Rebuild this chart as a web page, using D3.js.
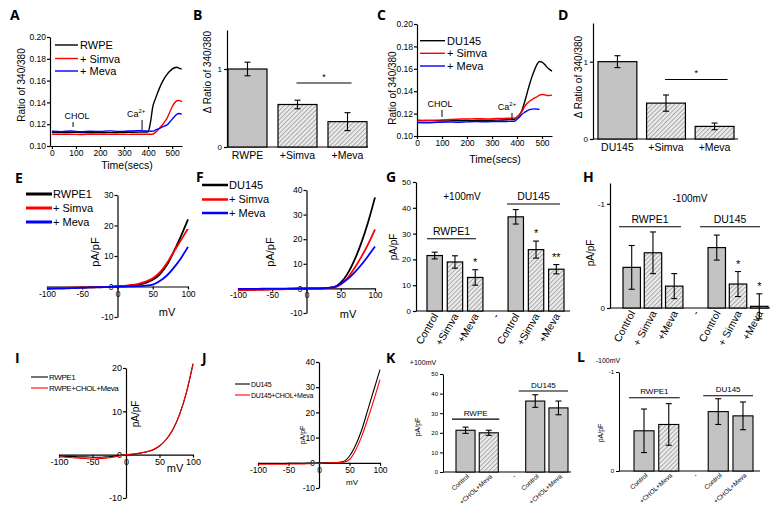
<!DOCTYPE html>
<html><head><meta charset="utf-8">
<script src="https://cdn.jsdelivr.net/npm/d3@7"></script>
<style>
body{margin:0;background:#fff;}
svg{display:block;}
</style></head><body>
<script>
// ================= DATA =================
// Panels A & C: ratio 340/380 time courses
const timePts = [0,40,80,120,160,200,240,280,320,360,390,400,410,420,430,440,450,460,470,480,490,500,510,520,530,540];
const ratioTicks = [0.10,0.12,0.14,0.16,0.18,0.20];
const timeTicks = [0,100,200,300,400,500];
const aRWPE  = [0.1125,0.1123,0.1126,0.1124,0.1122,0.1124,0.1123,0.1125,0.1126,0.1127,0.1128,0.1130,0.1220,0.1365,0.1430,0.1490,0.1545,0.1590,0.1630,0.1660,0.1685,0.1705,0.1718,0.1722,0.1712,0.1705];
const aSimva = [0.1108,0.1107,0.1108,0.1106,0.1107,0.1108,0.1107,0.1108,0.1107,0.1108,0.1108,0.1108,0.1108,0.1110,0.1125,0.1145,0.1170,0.1195,0.1225,0.1260,0.1310,0.1360,0.1395,0.1415,0.1418,0.1405];
const aMeva  = [0.1135,0.1132,0.1138,0.1131,0.1136,0.1133,0.1139,0.1134,0.1137,0.1140,0.1138,0.1136,0.1135,0.1136,0.1145,0.1155,0.1165,0.1175,0.1185,0.1195,0.1220,0.1245,0.1270,0.1292,0.1298,0.1292];
const cDU145 = [0.1140,0.1138,0.1136,0.1135,0.1137,0.1138,0.1140,0.1141,0.1142,0.1145,0.1150,0.1170,0.1190,0.1230,0.1300,0.1380,0.1460,0.1530,0.1590,0.1640,0.1665,0.1660,0.1640,0.1615,0.1595,0.1580];
const cSimva = [0.1135,0.1138,0.1142,0.1146,0.1150,0.1152,0.1155,0.1153,0.1156,0.1158,0.1160,0.1170,0.1190,0.1220,0.1260,0.1290,0.1310,0.1325,0.1340,0.1350,0.1365,0.1370,0.1368,0.1362,0.1362,0.1365];
const cMeva  = [0.1120,0.1118,0.1122,0.1125,0.1123,0.1126,0.1128,0.1127,0.1129,0.1130,0.1132,0.1150,0.1170,0.1195,0.1210,0.1225,0.1235,0.1240,0.1242,0.1240,0.1238,null,null,null,null,null];

// Panel B & D: normalized delta ratio
const catB = ["RWPE","+Simva","+Meva"];
const valB = [1.0,0.545,0.325];
const errB = [0.087,0.055,0.115];
const catD = ["DU145","+Simva","+Meva"];
const valD = [1.0,0.464,0.163];
const errD = [0.077,0.105,0.043];

// IV curves (pA/pF vs mV)
const mV = [-100,-90,-80,-70,-60,-50,-40,-30,-20,-10,0,10,20,30,40,50,60,70,80,90,100];
const ivTicksX = [-100,-50,0,50,100];
const eRWPE1 = [-0.6,-0.6,-0.5,-0.5,-0.4,-0.4,-0.3,-0.3,-0.2,-0.1,0,0.1,0.3,0.6,1.2,2.2,4.0,7.0,11.5,16.5,22];
const eSimva = [-0.5,-0.5,-0.5,-0.4,-0.4,-0.3,-0.3,-0.2,-0.2,-0.1,0,0.2,0.5,0.9,1.6,2.7,4.6,7.6,11.5,15.2,19];
const eMeva  = [-0.8,-0.7,-0.7,-0.6,-0.5,-0.4,-0.3,-0.2,-0.2,-0.1,0,0,0.05,0.1,0.3,0.6,1.8,3.6,6.2,9.3,13];
const fDU145 = [-0.5,-0.5,-0.5,-0.4,-0.4,-0.3,-0.3,-0.2,-0.2,-0.1,0,0,0.05,0.15,0.5,2.3,6.0,11.5,18.5,27,37];
const fSimva = [-0.7,-0.7,-0.6,-0.6,-0.5,-0.4,-0.4,-0.3,-0.2,-0.1,0,0,0.05,0.15,0.4,1.6,4.2,8.2,12.8,18,24];
const fMeva  = [-0.2,-0.2,-0.2,-0.2,-0.1,-0.1,-0.1,-0.1,0,0,0,0,0.05,0.2,0.5,1.9,3.8,6.4,9.6,13.2,17];
const iRWPE1 = [-0.3,-0.4,-0.4,-0.5,-0.5,-0.6,-0.6,-0.5,-0.4,-0.2,0,0.1,0.3,0.6,1.1,2.0,3.5,5.8,9.3,14.2,21];
const iCholMeva = [-0.5,-0.6,-0.7,-0.8,-0.9,-1.0,-0.9,-0.8,-0.6,-0.3,0,0.15,0.35,0.65,1.15,2.0,3.5,5.8,9.3,14.3,20.8];
const jDU145 = [-0.3,-0.3,-0.3,-0.3,-0.3,-0.2,-0.2,-0.2,-0.1,-0.1,0,0,0,0.1,0.5,2.7,7,13,21,29,37];
const jCholMeva = [-0.6,-0.6,-0.6,-0.6,-0.6,-0.5,-0.5,-0.5,-0.4,-0.3,-0.2,-0.1,0,0.05,0.2,1.3,5,10.5,17.5,25,33];

// Panels G & H: current densities
const catGH = ["Control","+Simva","+Meva","-","Control","+Simva","+Meva"];
const catH  = ["Control","+ Simva","+Meva","-","Control","+ Simva","+Meva"];
const valG = [21.5,19,13,null,36.5,23.8,16.2];
const errG = [1.3,2.4,3,null,2.8,3.3,1.8];
const valH = [-0.39,-0.53,-0.21,null,-0.58,-0.23,-0.016];
const errH = [0.21,0.2,0.12,null,0.12,0.12,0.12];
// Panels K & L
const catKL = ["Control","+CHOL+Meva","-","Control","+CHOL+Meva"];
const valK = [21.3,20,null,36.2,32.7];
const errK = [1.6,1.3,null,3.2,3.5];
const valL = [-0.406,-0.47,null,-0.6,-0.557];
const errL = [0.22,0.21,null,0.13,0.14];

// ================= DRAWING =================
const FONT = '"Liberation Sans", Arial, sans-serif';
const SOLID = "#c3c3c3";
const svg = d3.select("body").append("svg").attr("width",779).attr("height",520)
  .style("font-family",FONT);
svg.append("rect").attr("width",779).attr("height",520).attr("fill","#fff");
const defs = svg.append("defs");
const pat = defs.append("pattern").attr("id","hatch").attr("patternUnits","userSpaceOnUse")
  .attr("width",3.2).attr("height",3.2).attr("patternTransform","rotate(45)");
pat.append("rect").attr("width",3.2).attr("height",3.2).attr("fill","#ececec");
pat.append("line").attr("x1",0.5).attr("y1",0).attr("x2",0.5).attr("y2",3.2).attr("stroke","#a0a0a0").attr("stroke-width",0.9);

function txt(x,y,s,fs,opt={}){
  const t = svg.append("text").attr("x",x).attr("y",y).attr("font-size",fs)
    .attr("text-anchor",opt.anchor||"start").attr("fill","#000").text(s);
  if(opt.rotate!=null) t.attr("transform",`rotate(${opt.rotate},${x},${y})`);
  if(opt.weight) t.attr("font-weight",opt.weight);
  if(opt.family) t.attr("font-family",opt.family);
  if(opt.ls!=null) t.attr("letter-spacing",opt.ls);
  return t;
}
function styleAxis(g,fs,sw){
  g.selectAll("text").attr("font-size",fs).attr("font-family",FONT).attr("fill","#000");
  g.selectAll("path,line").attr("stroke","#000").attr("stroke-width",sw||1.2);
}
function letter(s,x,y){ txt(x,y,s,14,{weight:700,family:'"Open Sans", sans-serif'}); }
const fmtPlain = d=>String(d);

// ---- time-course panels ----
function timePanel(c){
  const x = d3.scaleLinear().domain(c.xDom).range(c.xRange);
  const y = d3.scaleLinear().domain([0.10,0.20]).range(c.yRange);
  const g = svg.append("g");
  const ya = g.append("g").attr("transform",`translate(${c.xRange[0]},0)`)
    .call(d3.axisLeft(y).tickValues(ratioTicks).tickFormat(d3.format(".2f")).tickSize(3).tickSizeOuter(0).tickPadding(1));
  const xa = g.append("g").attr("transform",`translate(0,${c.yRange[0]})`)
    .call(d3.axisBottom(x).tickValues(timeTicks).tickSize(3).tickSizeOuter(0).tickPadding(1));
  styleAxis(ya,8.5); styleAxis(xa,8.5);
  const line = d3.line().defined(d=>d[1]!=null).x(d=>x(d[0])).y(d=>y(d[1])).curve(d3.curveMonotoneX);
  c.series.forEach(s=>{
    g.append("path").datum(timePts.map((t,i)=>[t,s.v[i]])).attr("d",line)
      .attr("fill","none").attr("stroke",s.color).attr("stroke-width",1.4);
  });
  // legend
  c.series.forEach((s,i)=>{
    const ly = c.legY[i];
    g.append("line").attr("x1",c.legX[0]).attr("x2",c.legX[1]).attr("y1",ly).attr("y2",ly)
      .attr("stroke",s.color).attr("stroke-width",1.4);
    txt(c.legX[1]+2,ly+4,s.name,11);
  });
  // markers
  c.marks.forEach(m=>{
    g.append("line").attr("x1",x(m.t)).attr("x2",x(m.t)).attr("y1",y(m.y0)).attr("y2",y(m.y1))
      .attr("stroke","#000").attr("stroke-width",1);
    const t = txt(x(m.t)+m.dx, y(m.y1)-3, m.label, 9, {anchor:"middle"});
    if(m.sup){ t.append("tspan").attr("font-size",6).attr("dy",-4).text(m.sup); }
  });
  txt(c.xTitle[0],c.xTitle[1],"Time(secs)",10.5,{anchor:"middle"});
  txt(c.yTitle[0],c.yTitle[1],"Ratio of 340/380",10,{anchor:"middle",rotate:-90});
}

timePanel({xDom:[-8,541],xRange:[50,182],yRange:[146,37],
  series:[{name:"RWPE",v:aRWPE,color:"#000"},{name:"+ Simva",v:aSimva,color:"#ff0000"},{name:"+ Meva",v:aMeva,color:"#0000ff"}],
  legX:[55,78],legY:[45,58.5,71],
  marks:[{t:88,y0:0.1174,y1:0.1220,label:"CHOL",dx:4},{t:375,y0:0.1147,y1:0.1239,label:"Ca",sup:"2+",dx:-6}],
  xTitle:[127,169],yTitle:[25,85]});
timePanel({xDom:[0,540],xRange:[417,552],yRange:[136,24],
  series:[{name:"DU145",v:cDU145,color:"#000"},{name:"+ Simva",v:cSimva,color:"#ff0000"},{name:"+ Meva",v:cMeva,color:"#0000ff"}],
  legX:[420,445],legY:[40.7,53.3,66],
  marks:[{t:100,y0:0.1170,y1:0.1233,label:"CHOL",dx:-2},{t:380,y0:0.1143,y1:0.1206,label:"Ca",sup:"2+",dx:-5}],
  xTitle:[495,163],yTitle:[396,88]});

// ---- bar panels ----
function barPanel(c){
  const n = c.values.length;
  const x = d3.scaleBand().domain(d3.range(n)).range(c.band).paddingInner(c.pad).paddingOuter(0);
  const y = d3.scaleLinear().domain(c.yDom).range(c.yRange);
  const g = svg.append("g");
  const ya = g.append("g").attr("transform",`translate(${c.axisX},0)`)
    .call(d3.axisLeft(y).tickValues(c.yTicks).tickFormat(fmtPlain).tickSize(3).tickSizeOuter(0).tickPadding(2));
  styleAxis(ya,c.tickFs,c.sw);
  g.append("line").attr("x1",c.axisX).attr("x2",c.axisEnd).attr("y1",y(0)).attr("y2",y(0))
    .attr("stroke","#000").attr("stroke-width",c.sw||1.2);
  const bw = x.bandwidth();
  c.values.forEach((v,i)=>{
    if(v==null) return;
    const y0=y(0), y1=y(v);
    g.append("rect").attr("x",x(i)).attr("width",bw).attr("y",Math.min(y0,y1)).attr("height",Math.abs(y1-y0))
      .attr("fill",c.hatched[i]?"url(#hatch)":SOLID).attr("stroke","#000").attr("stroke-width",c.barSw||1.2);
    const e = c.errs[i], cx = x(i)+bw/2;
    const sgn = v<0?-1:1;
    const ylo = y(v - sgn*e), yhi = y(v + sgn*e);
    g.append("line").attr("x1",cx).attr("x2",cx).attr("y1",ylo).attr("y2",yhi).attr("stroke","#000").attr("stroke-width",1.1);
    [ylo,yhi].forEach(yy=>g.append("line").attr("x1",cx-c.cap).attr("x2",cx+c.cap).attr("y1",yy).attr("y2",yy).attr("stroke","#000").attr("stroke-width",1.1));
    if(c.stars && c.stars[i]){
      txt(cx, yhi - c.starGap, c.stars[i], c.starFs, {anchor:"middle"});
    }
  });
  // category labels
  c.cats.forEach((s,i)=>{
    const cx = x(i)+bw/2;
    if(c.rot==null){
      txt(cx, c.labelY, s, c.labelFs, {anchor:"middle"});
    } else {
      txt(cx + c.lab[0], y(0) + c.lab[1], s, c.labelFs, {anchor:"end", rotate:c.rot});
    }
  });
  // group annotations
  (c.groups||[]).forEach(gr=>{
    const x1 = x(gr.from)+gr.off[0], x2 = x(gr.to)+bw+gr.off[1];
    g.append("line").attr("x1",x1).attr("x2",x2).attr("y1",y(gr.y)).attr("y2",y(gr.y)).attr("stroke","#000").attr("stroke-width",1.1);
    txt((x1+x2)/2, y(gr.y)-3.5, gr.label, gr.fs, {anchor:"middle"});
  });
  // significance bracket
  if(c.sig){
    const s=c.sig;
    const x1 = x(s.from)+bw/2 + s.off[0], x2 = x(s.to)+bw/2 + s.off[1];
    g.append("line").attr("x1",x1).attr("x2",x2).attr("y1",y(s.y)).attr("y2",y(s.y)).attr("stroke","#000").attr("stroke-width",1.1);
    txt((x1+x2)/2, y(s.y)-3, "*", 9, {anchor:"middle"});
  }
  if(c.title) txt(c.title[0],c.title[1],c.title[2],c.title[3],{anchor:"middle"});
  txt(c.yTitle[0],c.yTitle[1],c.yTitle[2],c.yTitle[3],{anchor:"middle",rotate:-90});
}

barPanel({values:valB,errs:errB,cats:catB,hatched:[0,1,1],band:[228,367],pad:0.22,axisX:227,axisEnd:368,
  yDom:[0,1.5],yRange:[147,30],yTicks:[0,1],tickFs:8,cap:3,labelY:159,labelFs:10.5,
  sig:{from:1,to:2,y:0.82,off:[-1,4]},yTitle:[211,72,"\u0394 Ratio of 340/380",10]});
barPanel({values:valD,errs:errD,cats:catD,hatched:[0,1,1],band:[598,734],pad:0.2,axisX:593,axisEnd:738,
  yDom:[0,1.5],yRange:[139,23],yTicks:[0,1],tickFs:8,cap:3,labelY:151,labelFs:10.5,
  sig:{from:1,to:2,y:0.77,off:[-1,13]},yTitle:[582,77,"\u0394 Ratio of 340/380",10]});
barPanel({values:valG,errs:errG,cats:catGH,hatched:[0,1,1,0,0,1,1],band:[427,564],pad:0.24,axisX:416,axisEnd:570,
  yDom:[0,50],yRange:[311,182],yTicks:[0,10,20,30,40,50],tickFs:8,cap:3,rot:-60,lab:[4,5],labelFs:10.5,
  stars:[null,null,"*",null,null,"*","**"],starGap:4,starFs:11,
  groups:[{from:0,to:2,y:28,label:"RWPE1",fs:10.5,off:[0,-7]},{from:4,to:6,y:41.5,label:"DU145",fs:10.5,off:[-1,-4]}],
  title:[462,200,"+100mV",10],yTitle:[397,247,"pA/pF",10]});
barPanel({values:valH,errs:errH,cats:catH,hatched:[0,1,1,0,0,1,1],band:[623,768],pad:0.18,axisX:610,axisEnd:770,
  yDom:[0,-1.2],yRange:[308,183],yTicks:[0,-1],tickFs:8,cap:3,rot:-62,lab:[4,5],labelFs:10.5,
  stars:[null,null,null,null,null,"*","*"],starGap:4,starFs:11,
  groups:[{from:0,to:2,y:-0.78,label:"RWPE1",fs:10.5,off:[-4,-2]},{from:4,to:6,y:-0.78,label:"DU145",fs:10.5,off:[-8,-8]}],
  title:[690,202,"-100mV",10],yTitle:[594,253,"pA/pF",10]});
barPanel({values:valK,errs:errK,cats:catKL,hatched:[0,1,0,0,0],band:[456,568],pad:0.18,axisX:443,axisEnd:571,
  yDom:[0,50],yRange:[472,374],yTicks:[0,10,20,30,40,50],tickFs:6,sw:1,barSw:1.1,cap:3,rot:-42,lab:[4,5],labelFs:6.5,
  groups:[{from:0,to:1,y:27,label:"RWPE",fs:8,off:[-4,1]},{from:3,to:4,y:41.3,label:"DU145",fs:8,off:[-7,0]}],
  title:[423,365,"+100mV",7],yTitle:[420,427,"pA/pF",7]});
barPanel({values:valL,errs:errL,cats:catKL,hatched:[0,1,0,0,0],band:[634,753],pad:0.19,axisX:619,axisEnd:760,
  yDom:[0,-1],yRange:[471,372],yTicks:[0,-1],tickFs:6,sw:1,barSw:1.1,cap:3,rot:-42,lab:[4,5],labelFs:6.5,
  groups:[{from:0,to:1,y:-0.74,label:"RWPE1",fs:8,off:[-5,1]},{from:3,to:4,y:-0.76,label:"DU145",fs:8,off:[-5,0]}],
  title:[608,363,"-100mV",7],yTitle:[603,433,"pA/pF",7]});

// ---- IV panels ----
function ivPanel(c){
  const x = d3.scaleLinear().domain([-100,100]).range(c.xRange);
  const y = d3.scaleLinear().domain(c.yDom).range(c.yRange);
  const g = svg.append("g");
  const line = d3.line().x(d=>x(d[0])).y(d=>y(d[1])).curve(d3.curveMonotoneX);
  const ya = g.append("g").attr("transform",`translate(${x(0)},0)`)
    .call(d3.axisLeft(y).tickValues(c.yTicks).tickFormat(fmtPlain).tickSize(3).tickSizeOuter(0).tickPadding(1));
  const xa = g.append("g").attr("transform",`translate(0,${y(0)})`)
    .call(d3.axisBottom(x).tickValues(ivTicksX).tickFormat(fmtPlain).tickSize(3).tickSizeOuter(0).tickPadding(1));
  styleAxis(ya,c.tickFs); styleAxis(xa,c.tickFs);
  c.series.forEach(s=>{
    g.append("path").datum(mV.map((m,i)=>[m,s.v[i]])).attr("d",line).attr("fill","none")
      .attr("stroke",s.color).attr("stroke-width",c.lw);
  });
  c.series.forEach((s,i)=>{
    const ly=c.legY[i];
    g.append("line").attr("x1",c.legX[0]).attr("x2",c.legX[1]).attr("y1",ly).attr("y2",ly).attr("stroke",s.color).attr("stroke-width",c.legW);
    txt(c.legX[1]+1, ly+c.legFs*0.36, s.name, c.legFs, {ls:c.legLs||0});
  });
  txt(c.mv[0],c.mv[1],"mV",c.mv[2],{anchor:"middle"});
  txt(c.pa[0],c.pa[1],"pA/pF",c.pa[2],{anchor:"middle",rotate:-90});
}
ivPanel({xRange:[47,188],yDom:[-10,30],yRange:[317,195],yTicks:[-10,0,10,20,30],tickFs:8.5,lw:1.8,
  series:[{name:"RWPE1",v:eRWPE1,color:"#000"},{name:"+ Simva",v:eSimva,color:"#ff0000"},{name:"+ Meva",v:eMeva,color:"#0000ff"}],
  legX:[26,52],legY:[194,208,222],legW:3,legFs:11,mv:[167,316,11],pa:[99,252,11]});
ivPanel({xRange:[238,375],yDom:[-10,40],yRange:[313,190],yTicks:[-10,0,10,20,30,40],tickFs:8.5,lw:1.8,
  series:[{name:"DU145",v:fDU145,color:"#000"},{name:"+ Simva",v:fSimva,color:"#ff0000"},{name:"+ Meva",v:fMeva,color:"#0000ff"}],
  legX:[202,228],legY:[185,199.5,213],legW:2.5,legFs:11,mv:[348,318,11],pa:[274,252,11]});
ivPanel({xRange:[59,193],yDom:[-10,20],yRange:[498,368],yTicks:[-10,0,10,20],tickFs:9,lw:1.1,
  series:[{name:"RWPE1",v:iRWPE1,color:"#000"},{name:"RWPE+CHOL+Meva",v:iCholMeva,color:"#ff0000"}],
  legX:[31,48],legY:[377,388],legW:1.1,legFs:8,legLs:-0.4,mv:[175,472,11],pa:[139,414,10]});
ivPanel({xRange:[258,380],yDom:[-10,40],yRange:[488,362],yTicks:[-10,0,10,20,30,40],tickFs:8.5,lw:1.1,
  series:[{name:"DU145",v:jDU145,color:"#000"},{name:"DU145+CHOL+Meva",v:jCholMeva,color:"#ff0000"}],
  legX:[235,250],legY:[384,395],legW:1.1,legFs:7,legLs:-0.3,mv:[352,485,8],pa:[305,435,7]});

// ---- panel letters ----
letter("A",10,20); letter("B",193,20); letter("C",377,20); letter("D",558,20);
letter("E",15,183); letter("F",196,182); letter("G",386,182); letter("H",583,182);
letter("I",15,363); letter("J",202,363); letter("K",386,363); letter("L",577,362);
</script>
</body></html>
